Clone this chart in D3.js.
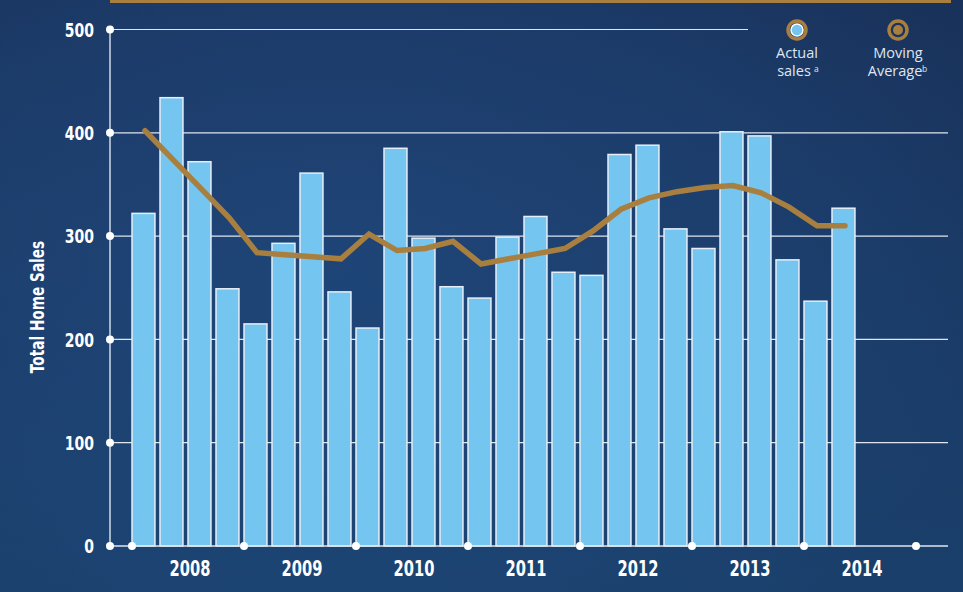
<!DOCTYPE html>
<html>
<head>
<meta charset="utf-8">
<script src="https://cdn.jsdelivr.net/npm/d3@7"></script>
<style>
  html, body { margin: 0; padding: 0; background: #1c3b6b; }
  svg { display: block; }
</style>
</head>
<body>
<svg id="chart"></svg>
<script>
const width = 963;
const height = 592;

const years = ['2008', '2009', '2010', '2011', '2012', '2013', '2014'];
const quarters = ['Q1', 'Q2', 'Q3', 'Q4'];
const actualSales = [322, 434, 372, 249, 215, 293, 361, 246, 211, 385, 298, 251, 240, 299, 319, 265,
                     262, 379, 388, 307, 288, 401, 397, 277, 237, 327];
const movingAverage = [402, 374, 346, 318, 284, 282, 280, 278, 302, 286, 288, 295, 273, 278, 283, 288,
                       305, 326, 337, 343, 347, 349, 342, 328, 310, 310];
const yTicks = [0, 100, 200, 300, 400, 500];

const colors = {
    bar: '#74c5f0',
    barStroke: '#e6eef7',
    line: '#a87f3f',
    grid: '#dfe6ef',
    text: '#ffffff'
};

const margin = { left: 110 };
const plotLeft = 132, plotRight = 916;

const svg = d3.select('#chart')
    .attr('width', width)
    .attr('height', height)
    .style('font-family', 'DejaVu Sans, sans-serif');

// background
const defs = svg.append('defs');
const bg = defs.append('radialGradient').attr('id', 'bg')
    .attr('cx', '35%').attr('cy', '45%').attr('r', '75%');
bg.append('stop').attr('offset', '0%').attr('stop-color', '#1f4275');
bg.append('stop').attr('offset', '60%').attr('stop-color', '#1c3b69');
bg.append('stop').attr('offset', '100%').attr('stop-color', '#19325b');
svg.append('rect').attr('width', width).attr('height', height).attr('fill', 'url(#bg)');

const bg2 = defs.append('linearGradient').attr('id', 'bg2')
    .attr('x1', '0').attr('y1', '0').attr('x2', '0').attr('y2', '1');
bg2.append('stop').attr('offset', '0%').attr('stop-color', '#1d4f80').attr('stop-opacity', 0);
bg2.append('stop').attr('offset', '100%').attr('stop-color', '#1d5485').attr('stop-opacity', 0.4);
svg.append('rect').attr('width', width).attr('height', height).attr('fill', 'url(#bg2)');

// gold top rule
svg.append('rect')
    .attr('x', 110).attr('y', 0)
    .attr('width', 841).attr('height', 3)
    .attr('fill', colors.line);

// scales
const slots = years.flatMap(y => quarters.map(q => `${y} ${q}`));
const x = d3.scaleBand()
    .domain(slots)
    .range([plotLeft, plotRight])
    .padding(0);
const yearX = d3.scaleLinear()
    .domain([0, years.length])
    .range([plotLeft, plotRight]);
const y = d3.scaleLinear()
    .domain([0, 500])
    .range([546, 29.5]);

const data = actualSales.map((v, i) => ({ slot: slots[i], sales: v, avg: movingAverage[i] }));
const barW = x.bandwidth() * 0.82;

// gridlines
svg.append('g')
    .selectAll('line')
    .data(yTicks.filter(d => d > 0))
    .enter().append('line')
    .attr('x1', margin.left)
    .attr('x2', d => d === 500 ? 748 : 948)
    .attr('y1', d => y(d))
    .attr('y2', d => y(d))
    .attr('stroke', colors.grid)
    .attr('stroke-width', 1.2);

// bars
svg.append('g')
    .selectAll('rect')
    .data(data)
    .enter().append('rect')
    .attr('x', d => x(d.slot))
    .attr('y', d => y(d.sales))
    .attr('width', barW)
    .attr('height', d => y(0) - y(d.sales))
    .attr('fill', colors.bar)
    .attr('stroke', colors.barStroke)
    .attr('stroke-width', 1.5);

// axes lines
svg.append('line')
    .attr('x1', margin.left).attr('x2', margin.left)
    .attr('y1', y(500)).attr('y2', y(0))
    .attr('stroke', colors.grid).attr('stroke-width', 1.4);
svg.append('line')
    .attr('x1', margin.left).attr('x2', 948)
    .attr('y1', y(0)).attr('y2', y(0))
    .attr('stroke', colors.grid).attr('stroke-width', 1.4);

// y tick dots + labels (condensed look via horizontal squeeze)
const yAxis = svg.append('g');
yAxis.selectAll('circle')
    .data(yTicks)
    .enter().append('circle')
    .attr('cx', margin.left)
    .attr('cy', d => y(d))
    .attr('r', 4)
    .attr('fill', '#fff');
yAxis.selectAll('text')
    .data(yTicks)
    .enter().append('text')
    .attr('transform', d => `translate(94, ${y(d)}) scale(0.7, 1)`)
    .attr('dy', '0.36em')
    .attr('text-anchor', 'end')
    .attr('fill', colors.text)
    .style('font-size', '20px')
    .style('font-weight', 'bold')
    .text(d => d);

// x year dots + labels
const xAxis = svg.append('g');
xAxis.selectAll('circle')
    .data(d3.range(years.length + 1))
    .enter().append('circle')
    .attr('cx', d => yearX(d))
    .attr('cy', y(0))
    .attr('r', 4)
    .attr('fill', '#fff');
xAxis.selectAll('text')
    .data(years)
    .enter().append('text')
    .attr('transform', (d, i) => `translate(${yearX(i + 0.5) + 2}, 576) scale(0.7, 1)`)
    .attr('text-anchor', 'middle')
    .attr('fill', colors.text)
    .style('font-size', '21px')
    .style('font-weight', 'bold')
    .text(d => d);

// y title
svg.append('text')
    .attr('transform', 'translate(44, 307) rotate(-90) scale(0.72, 1)')
    .attr('text-anchor', 'middle')
    .attr('fill', colors.text)
    .style('font-size', '19px')
    .style('font-weight', 'bold')
    .text('Total Home Sales');

// moving average line
const line = d3.line()
    .x(d => x(d.slot) + 13)
    .y(d => y(d.avg));
svg.append('path')
    .datum(data)
    .attr('d', line)
    .attr('fill', 'none')
    .attr('stroke', colors.line)
    .attr('stroke-width', 5.5)
    .attr('stroke-linejoin', 'miter')
    .attr('stroke-linecap', 'round');

// legend
const legend = svg.append('g')
    .style('font-family', '"Open Sans", Lato, sans-serif')
    .style('font-size', '14.5px')
    .style('font-weight', 400)
    .attr('fill', '#dfe6f0');

const l1 = legend.append('g').attr('transform', 'translate(797, 30)');
l1.append('circle').attr('r', 9).attr('fill', 'none').attr('stroke', colors.line).attr('stroke-width', 3.5);
l1.append('circle').attr('r', 6).attr('fill', colors.bar).attr('stroke', '#fff').attr('stroke-width', 1.5);
l1.append('text').attr('y', 28).attr('text-anchor', 'middle').text('Actual');
l1.append('text').attr('x', -3).attr('y', 46).attr('text-anchor', 'middle').text('sales');
l1.append('text').attr('x', 17).attr('y', 42).style('font-size', '8.5px').text('a');

const l2 = legend.append('g').attr('transform', 'translate(898, 30)');
l2.append('circle').attr('r', 9).attr('fill', 'none').attr('stroke', colors.line).attr('stroke-width', 3.5);
l2.append('circle').attr('r', 5).attr('fill', colors.line);
l2.append('text').attr('y', 28).attr('text-anchor', 'middle').text('Moving');
l2.append('text').attr('x', -3).attr('y', 46).attr('text-anchor', 'middle').text('Average');
l2.append('text').attr('x', 24).attr('y', 42).style('font-size', '8.5px').text('b');
</script>
</body>
</html>
